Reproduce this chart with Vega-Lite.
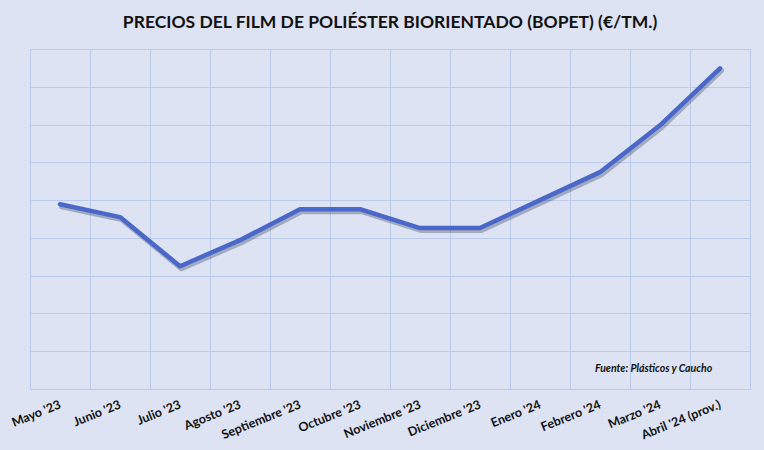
{
  "$schema": "https://vega.github.io/schema/vega-lite/v6.json",
  "autosize": "none",
  "width": 720,
  "height": 340,
  "padding": {"left": 30, "top": 49, "right": 14, "bottom": 61},
  "background": "#DDE3F3",
  "title": {
    "text": "PRECIOS DEL FILM DE POLIÉSTER BIORIENTADO (BOPET) (€/TM.)",
    "font": "Lato",
    "fontSize": 17.5,
    "fontWeight": "bold",
    "color": "#111111",
    "anchor": "middle",
    "offset": 18
  },
  "config": {
    "view": {"stroke": "#B9CAEA", "strokeWidth": 1}
  },
  "data": {
    "values": [
      {"mes": "Mayo '23", "precio": 4.89},
      {"mes": "Junio '23", "precio": 4.55},
      {"mes": "Julio '23", "precio": 3.25},
      {"mes": "Agosto '23", "precio": 3.94},
      {"mes": "Septiembre '23", "precio": 4.76},
      {"mes": "Octubre '23", "precio": 4.76},
      {"mes": "Noviembre '23", "precio": 4.26},
      {"mes": "Diciembre '23", "precio": 4.26},
      {"mes": "Enero '24", "precio": 5.0},
      {"mes": "Febrero '24", "precio": 5.74},
      {"mes": "Marzo '24", "precio": 6.98},
      {"mes": "Abril '24 (prov.)", "precio": 8.49}
    ]
  },
  "encoding": {
    "x": {
      "field": "mes",
      "type": "ordinal",
      "sort": null,
      "bandPosition": 0.5,
      "scale": {"type": "band", "paddingInner": 0, "paddingOuter": 0},
      "axis": {
        "title": null,
        "bandPosition": 0,
        "domain": false,
        "ticks": false,
        "grid": true,
        "gridColor": "#B9CAEA",
        "gridWidth": 1,
        "gridOpacity": 1,
        "labelOffset": -2,
        "labelAngle": -22,
        "labelAlign": "right",
        "labelBaseline": "top",
        "labelPadding": 9,
        "labelFont": "Lato",
        "labelFontSize": 12.5,
        "labelFontWeight": "bold",
        "labelColor": "#111111",
        "labelOverlap": false
      }
    },
    "y": {
      "field": "precio",
      "type": "quantitative",
      "scale": {"domain": [0, 9], "nice": false},
      "axis": {
        "title": null,
        "labels": false,
        "ticks": false,
        "domain": false,
        "values": [0, 1, 2, 3, 4, 5, 6, 7, 8, 9],
        "gridColor": "#B9CAEA",
        "gridOpacity": 1
      }
    }
  },
  "layer": [
    {
      "mark": {"type": "line", "color": "#33405F", "opacity": 0.35, "strokeWidth": 5, "xOffset": 1.5, "yOffset": 2.5, "strokeCap": "round", "strokeJoin": "round"}
    },
    {
      "mark": {"type": "line", "color": "#4A68C9", "strokeWidth": 4.5, "strokeCap": "round", "strokeJoin": "round"}
    },
    {
      "data": {"values": [{"mes": "Abril '24 (prov.)", "precio": 0.53, "nota": "Fuente: Plásticos y Caucho"}]},
      "mark": {"type": "text", "align": "right", "baseline": "middle", "font": "Lato", "fontSize": 10.5, "fontWeight": "bold", "fontStyle": "italic", "color": "#111111"},
      "encoding": {
        "x": {"field": "mes", "type": "ordinal", "bandPosition": 0.37},
        "text": {"field": "nota"}
      }
    }
  ]
}
